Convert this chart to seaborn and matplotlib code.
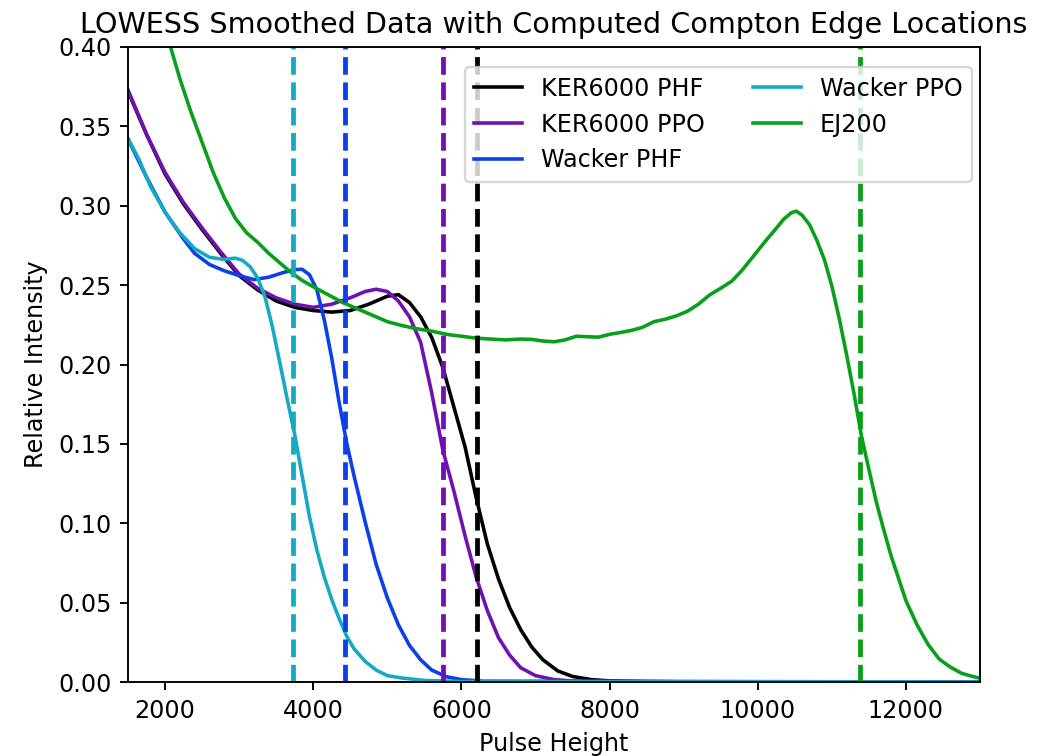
import matplotlib
matplotlib.use("Agg")
import matplotlib.pyplot as plt
import seaborn as sns
import pandas as pd

# ---- LOWESS-smoothed spectra (pulse height vs. relative intensity) ----
ker_phf_x = [1500, 1750, 2000, 2250, 2500, 2750, 3000, 3250, 3500, 3750, 4000, 4250,
             4500, 4750, 5000, 5150, 5300, 5450, 5600, 5750, 5900, 6050, 6200, 6350,
             6500, 6650, 6800, 6950, 7100, 7300, 7500, 7750, 8000, 8500, 9000, 13000]
ker_phf_y = [0.372, 0.345, 0.320, 0.301, 0.285, 0.270, 0.256, 0.247, 0.240, 0.236, 0.234, 0.233,
             0.234, 0.238, 0.243, 0.244, 0.239, 0.230, 0.217, 0.198, 0.173, 0.148, 0.116, 0.087,
             0.065, 0.047, 0.033, 0.022, 0.014, 0.007, 0.0035, 0.0015, 0.0007, 0.0003, 0.0001, 0.0]

ker_ppo_x = [1500, 1750, 2000, 2250, 2500, 2750, 3000, 3250, 3500, 3750, 4000, 4250,
             4500, 4700, 4850, 5000, 5150, 5300, 5450, 5600, 5750, 5900, 6050, 6200,
             6350, 6500, 6650, 6800, 7000, 7250, 7500, 8000, 13000]
ker_ppo_y = [0.373, 0.345, 0.321, 0.302, 0.286, 0.271, 0.257, 0.248, 0.242, 0.238, 0.236, 0.238,
             0.242, 0.246, 0.2474, 0.246, 0.240, 0.230, 0.214, 0.182, 0.146, 0.120, 0.092, 0.066,
             0.045, 0.028, 0.017, 0.009, 0.004, 0.0015, 0.0006, 0.0002, 0.0]

wacker_phf_x = [1500, 1750, 2000, 2250, 2400, 2600, 2800, 3000, 3200, 3400, 3600, 3750,
                3850, 3950, 4050, 4150, 4250, 4350, 4450, 4550, 4700, 4850, 5000, 5150,
                5300, 5450, 5600, 5800, 6000, 6300, 13000]
wacker_phf_y = [0.342, 0.318, 0.296, 0.279, 0.270, 0.263, 0.259, 0.256, 0.2535, 0.255, 0.258, 0.2598,
                0.260, 0.2565, 0.247, 0.228, 0.204, 0.176, 0.151, 0.130, 0.101, 0.074, 0.053, 0.036,
                0.023, 0.014, 0.0075, 0.0033, 0.0015, 0.0005, 0.0]

wacker_ppo_x = [1500, 1650, 1800, 2000, 2200, 2400, 2600, 2800, 2950, 3050, 3150, 3250,
                3350, 3450, 3550, 3650, 3750, 3850, 3950, 4050, 4150, 4250, 4350, 4450,
                4550, 4700, 4850, 5000, 5200, 5500, 6000, 13000]
wacker_ppo_y = [0.3425, 0.329, 0.3125, 0.296, 0.283, 0.273, 0.2675, 0.2662, 0.2670, 0.2655, 0.2615, 0.2545,
                0.2425, 0.2235, 0.201, 0.178, 0.156, 0.130, 0.104, 0.083, 0.066, 0.052, 0.040, 0.029,
                0.021, 0.013, 0.0075, 0.004, 0.0025, 0.001, 0.0003, 0.0]

ej200_x = [1950, 2074, 2200, 2350, 2500, 2650, 2800, 2950, 3100, 3250, 3400, 3550,
           3700, 3850, 4000, 4200, 4400, 4600, 4800, 5000, 5200, 5400, 5600, 5800,
           6000, 6200, 6400, 6600, 6800, 6950, 7100, 7250, 7400, 7550, 7700, 7850,
           8000, 8150, 8300, 8450, 8600, 8750, 8900, 9050, 9200, 9350, 9500, 9650,
           9800, 9950, 10100, 10250, 10350, 10450, 10520, 10600, 10700, 10800, 10900, 11000,
           11100, 11200, 11300, 11400, 11500, 11600, 11700, 11800, 11900, 12000, 12150, 12300,
           12450, 12600, 12750, 12900, 13000]
ej200_y = [0.421, 0.400, 0.380, 0.359, 0.340, 0.321, 0.305, 0.292, 0.283, 0.277, 0.270, 0.264,
           0.258, 0.253, 0.249, 0.244, 0.239, 0.235, 0.231, 0.227, 0.2245, 0.2225, 0.221, 0.219,
           0.2178, 0.2166, 0.216, 0.2155, 0.216, 0.2158, 0.2148, 0.2143, 0.2155, 0.2178, 0.2175, 0.2172,
           0.219, 0.2202, 0.2215, 0.2235, 0.227, 0.2285, 0.2306, 0.2335, 0.238, 0.2438, 0.248, 0.2525,
           0.260, 0.2687, 0.2775, 0.2858, 0.2915, 0.2955, 0.2966, 0.294, 0.288, 0.278, 0.266, 0.2495,
           0.229, 0.206, 0.1815, 0.155, 0.134, 0.1135, 0.096, 0.0794, 0.0654, 0.0513, 0.036, 0.0236,
           0.0144, 0.0094, 0.0055, 0.0035, 0.0024]

# ---- series metadata and computed Compton edge locations ----
labels = ["KER6000 PHF", "KER6000 PPO", "Wacker PHF", "Wacker PPO", "EJ200"]
colors = ["#000000", "#7010b0", "#0b3fe8", "#14aac4", "#08a01a"]
edges = [6210, 5756, 4427, 3729, 11386]

series_x = [ker_phf_x, ker_ppo_x, wacker_phf_x, wacker_ppo_x, ej200_x]
series_y = [ker_phf_y, ker_ppo_y, wacker_phf_y, wacker_ppo_y, ej200_y]

DPI = 172
fig = plt.figure(figsize=(1053 / DPI, 756 / DPI), dpi=DPI)
ax = fig.add_axes([128 / 1053, 74 / 756, 852 / 1053, 635 / 756])

for lab, col, xs, ys in zip(labels, colors, series_x, series_y):
    df = pd.DataFrame({"Pulse Height": xs, "Relative Intensity": ys})
    sns.lineplot(data=df, x="Pulse Height", y="Relative Intensity",
                 color=col, label=lab, linewidth=1.5, ax=ax)

for col, e in zip(colors, edges):
    ax.axvline(e, color=col, linestyle="--", linewidth=2)

ax.set_xlim(1500, 13000)
ax.set_ylim(0, 0.40)
ax.set_xlabel("Pulse Height")
ax.set_ylabel("Relative Intensity")
ax.set_title("LOWESS Smoothed Data with Computed Compton Edge Locations")
ax.legend(ncol=2, loc="upper right", bbox_to_anchor=(0.9906, 0.9685), borderaxespad=0)

fig.savefig("out.png", dpi=DPI)
